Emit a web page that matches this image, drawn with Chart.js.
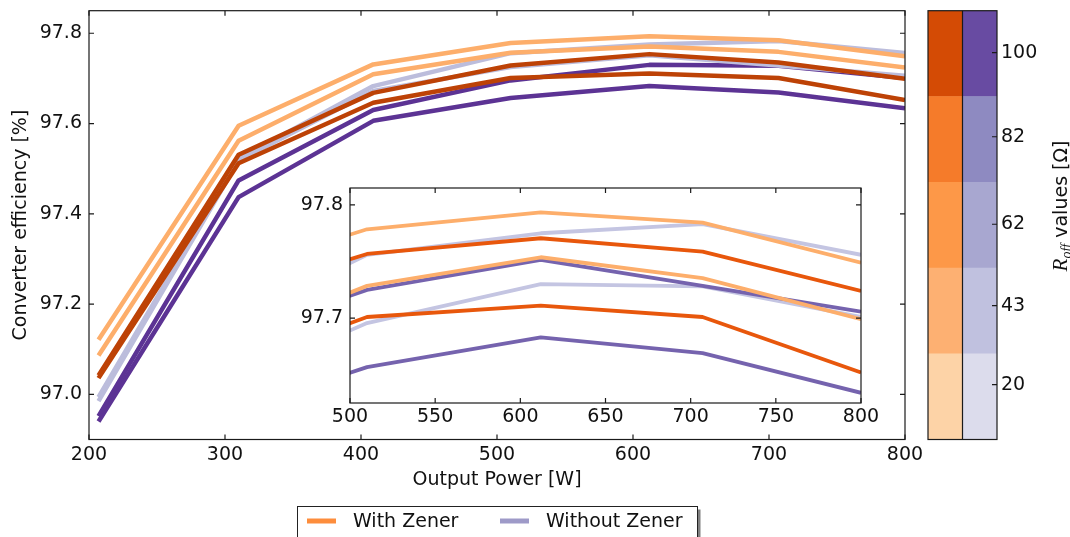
<!DOCTYPE html>
<html>
<head>
<meta charset="utf-8">
<script src="https://cdn.jsdelivr.net/npm/chart.js@4.4.0/dist/chart.umd.min.js"></script>
<style>
  html, body { margin: 0; padding: 0; background: #fff; }
  #wrap { position: relative; width: 1070px; height: 537px; overflow: hidden; }
  canvas { position: absolute; }
  #main { left: 0; top: 0; }
  #inset { left: 290px; top: 180px; }
  #cbar { left: 900px; top: 0; }
</style>
</head>
<body>
<div id="wrap">
  <canvas id="main" width="1070" height="537"></canvas>
  <canvas id="inset" width="600" height="260"></canvas>
  <canvas id="cbar" width="170" height="537"></canvas>
</div>
<script>
// output power of each measurement [W]
const powerW = [207, 310, 409, 510, 612, 707, 800];

// converter efficiency [%], with Zener clamp
const withZener1 = [97.121, 97.595, 97.731, 97.7785, 97.7935, 97.7844, 97.749];
const withZener2 = [97.086, 97.562, 97.709, 97.7567, 97.7706, 97.7588, 97.724];
const withZener3 = [97.042, 97.531, 97.668, 97.7285, 97.7538, 97.7353, 97.699];
const withZener4 = [97.036, 97.512, 97.646, 97.701, 97.711, 97.701, 97.652];
// converter efficiency [%], without Zener
const noZener1 = [96.994, 97.522, 97.683, 97.7559, 97.775, 97.783, 97.756];
const noZener2 = [96.985, 97.518, 97.672, 97.725, 97.7515, 97.7285, 97.7058];
const noZener3 = [96.952, 97.474, 97.630, 97.6956, 97.730, 97.728, 97.701];
const noZener4 = [96.940, 97.437, 97.606, 97.6567, 97.683, 97.669, 97.634];

const mainXTicks = [200, 300, 400, 500, 600, 700, 800];
const mainYTicks = [97.0, 97.2, 97.4, 97.6, 97.8];
const insetXTicks = [500, 550, 600, 650, 700, 750, 800];
const insetYTicks = [97.7, 97.8];

// colorbar: R_off values and where their ticks sit (segment units)
const rOffValues = [20, 43, 62, 82, 100];
const cbTickPos = [0.64, 1.56, 2.51, 3.53, 4.51];
const cbSegment = [1, 1, 1, 1, 1];
const orangeShades = ['#fdd3a7', '#fdb072', '#fd9848', '#f57b2a', '#d44b05'];
const purpleShades = ['#dcdcec', '#c0c1df', '#a8a7d0', '#8e8ac1', '#684ba2'];

const legendLabels = ['With Zener', 'Without Zener'];
const legendColors = ['#fd8d3c', '#9e9ac8'];

// line colours (main plot / zoomed inset)
const mainZenerColors = ['#fdae6b', '#fdae6b', '#bd4206', '#bd4206'];
const mainNoZenerColors = ['#bcbddc', '#bcbddc', '#5c3394', '#5c3394'];
const insetZenerColors = ['#fdae6b', '#e8570c', '#fdae6b', '#e8570c'];
const insetNoZenerColors = ['#c4c5e2', '#7563ae', '#c4c5e2', '#7563ae'];

const zenerSeries = [withZener1, withZener2, withZener3, withZener4];
const noZenerSeries = [noZener1, noZener2, noZener3, noZener4];

Chart.defaults.font.family = "'DejaVu Sans', sans-serif";
Chart.defaults.font.size = 19;
Chart.defaults.color = '#111';

function toPoints(arr) {
    return arr.map((y, i) => ({ x: powerW[i], y: y }));
}

function makeDatasets(zColors, nColors, width) {
    const ds = [];
    // Zener lines first so they end up drawn on top
    zenerSeries.forEach((s, i) => ds.push({
        label: 'With Zener', data: toPoints(s), borderColor: zColors[i], borderWidth: width
    }));
    noZenerSeries.forEach((s, i) => ds.push({
        label: 'Without Zener', data: toPoints(s), borderColor: nColors[i], borderWidth: width
    }));
    return ds;
}

// fixed axis box size, and no extra room reserved for end labels
function fixSize(w, h) {
    return s => {
        if (w != null) s.width = w;
        if (h != null) s.height = h;
        s.paddingTop = 0; s.paddingBottom = 0;
        s.paddingLeft = 0; s.paddingRight = 0;
    };
}

const noGrid = { display: false, drawTicks: false };

// matplotlib-like frame with inward ticks on every side
const frameTicks = {
    id: 'frameTicks',
    beforeDraw(chart, args, opts) {
        if (!opts.fill) return;
        const a = chart.chartArea;
        chart.ctx.save();
        chart.ctx.fillStyle = opts.fill;
        chart.ctx.fillRect(a.left, a.top, a.width, a.height);
        chart.ctx.restore();
    },
    afterDraw(chart, args, opts) {
        const { ctx, chartArea: a, scales } = chart;
        const len = 5;
        ctx.save();
        ctx.strokeStyle = '#1a1a1a';
        ctx.lineWidth = 1.2;
        ctx.beginPath();
        if (opts.xTicks !== false) {
            scales.x.ticks.forEach(t => {
                const px = scales.x.getPixelForValue(t.value);
                ctx.moveTo(px, a.bottom); ctx.lineTo(px, a.bottom - len);
                ctx.moveTo(px, a.top); ctx.lineTo(px, a.top + len);
            });
        }
        scales.y.ticks.forEach(t => {
            const py = scales.y.getPixelForValue(t.value);
            if (opts.left !== false) { ctx.moveTo(a.left, py); ctx.lineTo(a.left + len, py); }
            ctx.moveTo(a.right, py); ctx.lineTo(a.right - len, py);
        });
        if (opts.divider) {
            const mid = (a.left + a.right) / 2;
            ctx.moveTo(mid, a.top); ctx.lineTo(mid, a.bottom);
        }
        ctx.stroke();
        ctx.strokeRect(a.left, a.top, a.width, a.height);
        ctx.restore();
    }
};

// legend box under the x axis title
const legendBox = {
    id: 'legendBox',
    afterDraw(chart) {
        const ctx = chart.ctx;
        ctx.save();
        ctx.fillStyle = 'rgba(0,0,0,0.5)';
        ctx.fillRect(300.5, 509.5, 400, 40);
        ctx.fillStyle = '#fff';
        ctx.fillRect(297.5, 506.5, 400, 40);
        ctx.strokeStyle = '#222';
        ctx.lineWidth = 1;
        ctx.strokeRect(297.5, 506.5, 400, 40);
        const swatchX = [307, 500];
        ctx.font = "19px 'DejaVu Sans'";
        ctx.textBaseline = 'middle';
        legendLabels.forEach((lab, i) => {
            ctx.strokeStyle = legendColors[i];
            ctx.lineWidth = 5;
            ctx.beginPath();
            ctx.moveTo(swatchX[i], 521);
            ctx.lineTo(swatchX[i] + 29, 521);
            ctx.stroke();
            ctx.fillStyle = '#111';
            ctx.fillText(lab, swatchX[i] + 46, 522);
        });
        ctx.restore();
    }
};

// rotated colorbar label with R_off
const cbLabel = {
    id: 'cbLabel',
    afterDraw(chart) {
        const ctx = chart.ctx;
        const parts = [
            { t: 'R', font: "italic 21px 'Liberation Serif'", dy: 0 },
            { t: 'off', font: "italic 14px 'Liberation Serif'", dy: 4 },
            { t: ' values [Ω]', font: "19px 'DejaVu Sans'", dy: 0 }
        ];
        ctx.save();
        let total = 0;
        parts.forEach(p => { ctx.font = p.font; p.w = ctx.measureText(p.t).width; total += p.w; });
        ctx.translate(160, 206);
        ctx.rotate(-Math.PI / 2);
        ctx.fillStyle = '#111';
        ctx.textBaseline = 'alphabetic';
        let x = -total / 2;
        parts.forEach(p => {
            ctx.font = p.font;
            ctx.fillText(p.t, x, 7 + p.dy);
            x += p.w;
        });
        ctx.restore();
    }
};

const lineElements = {
    point: { radius: 0 },
    line: { tension: 0, borderCapStyle: 'butt', borderJoinStyle: 'round' }
};

// main plot
new Chart(document.getElementById('main'), {
    type: 'line',
    data: { datasets: makeDatasets(mainZenerColors, mainNoZenerColors, 4.5) },
    options: {
        responsive: false,
        animation: false,
        layout: { padding: { left: 0, top: 10.7, right: 165, bottom: 45 } },
        elements: lineElements,
        plugins: { legend: { display: false }, tooltip: { enabled: false }, frameTicks: {} },
        scales: {
            x: {
                type: 'linear', min: 200, max: 800,
                grid: noGrid, border: { display: false },
                afterBuildTicks: s => { s.ticks = mainXTicks.map(v => ({ value: v })); },
                afterFit: fixSize(null, 52.5),
                ticks: { padding: 4, autoSkip: false, maxRotation: 0, callback: v => String(v) },
                title: { display: true, text: 'Output Power [W]', padding: { top: 0, bottom: 1 } }
            },
            y: {
                min: 96.9, max: 97.85,
                grid: noGrid, border: { display: false },
                afterBuildTicks: s => { s.ticks = mainYTicks.map(v => ({ value: v })); },
                afterFit: fixSize(89, null),
                ticks: { padding: 7, callback: v => v.toFixed(1) },
                title: { display: true, text: 'Converter efficiency [%]', padding: { top: 10, bottom: 0 } }
            }
        }
    },
    plugins: [frameTicks, legendBox]
});

// zoomed inset, 500-800 W
new Chart(document.getElementById('inset'), {
    type: 'line',
    data: { datasets: makeDatasets(insetZenerColors, insetNoZenerColors, 3.8) },
    options: {
        responsive: false,
        animation: false,
        layout: { padding: { left: 0, top: 8, right: 29, bottom: 0 } },
        elements: lineElements,
        plugins: { legend: { display: false }, tooltip: { enabled: false }, frameTicks: { fill: '#fff' } },
        scales: {
            x: {
                type: 'linear', min: 500, max: 800,
                grid: noGrid, border: { display: false },
                afterBuildTicks: s => { s.ticks = insetXTicks.map(v => ({ value: v })); },
                afterFit: fixSize(null, 37),
                ticks: { padding: 3, autoSkip: false, maxRotation: 0, callback: v => String(v) }
            },
            y: {
                min: 97.625, max: 97.815,
                grid: noGrid, border: { display: false },
                afterBuildTicks: s => { s.ticks = insetYTicks.map(v => ({ value: v })); },
                afterFit: fixSize(60, null),
                ticks: { padding: 7, callback: v => v.toFixed(1) }
            }
        }
    },
    plugins: [frameTicks]
});

// colorbar, one stacked segment per R_off value
new Chart(document.getElementById('cbar'), {
    type: 'bar',
    data: {
        labels: legendLabels,
        datasets: cbSegment.map((v, i) => ({
            data: [v, v],
            backgroundColor: [orangeShades[i], purpleShades[i]],
            borderWidth: 0,
            barPercentage: 1,
            categoryPercentage: 1
        }))
    },
    options: {
        responsive: false,
        animation: false,
        layout: { padding: { left: 28, top: 10.7, right: 0, bottom: 97.5 } },
        plugins: {
            legend: { display: false }, tooltip: { enabled: false },
            frameTicks: { xTicks: false, left: false, divider: true }
        },
        scales: {
            x: { stacked: true, display: false },
            y: {
                stacked: true, position: 'right', min: 0, max: 5,
                grid: noGrid, border: { display: false },
                afterBuildTicks: s => { s.ticks = cbTickPos.map(v => ({ value: v })); },
                afterFit: fixSize(73, null),
                ticks: { padding: 4, callback: (v, i) => String(rOffValues[i]) }
            }
        }
    },
    plugins: [frameTicks, cbLabel]
});
</script>
</body>
</html>
